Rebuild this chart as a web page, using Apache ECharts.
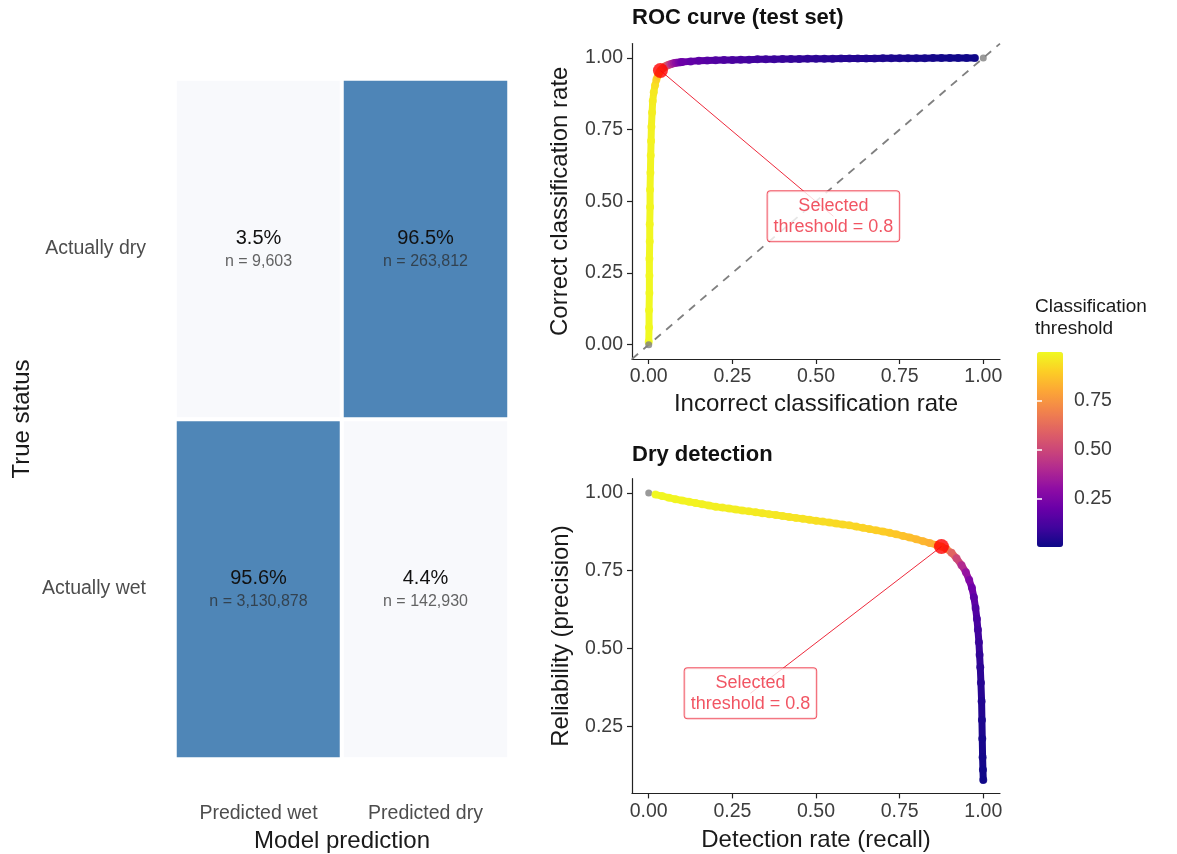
<!DOCTYPE html>
<html>
<head>
<meta charset="utf-8">
<script src="https://cdn.jsdelivr.net/npm/echarts@6/dist/echarts.min.js"></script>
<style>
  html, body { margin: 0; padding: 0; background: #fff; }
  #chart { width: 1177px; height: 854px; }
</style>
</head>
<body>
<div id="chart"></div>
<script>
// Confusion matrix
const predCats = ['Predicted wet', 'Predicted dry'];
const trueCats = ['Actually wet', 'Actually dry'];
const cellPred = [0, 1, 0, 1];
const cellTrue = [0, 0, 1, 1];
const cellShare = [0.956, 0.044, 0.035, 0.965];
const cellCount = [3130878, 142930, 9603, 263812];

// ROC curve (test set)
const rocFpr = [0.000, 0.001, 0.001, 0.002, 0.002, 0.002, 0.003, 0.003, 0.004, 0.004, 0.005, 0.006, 0.007, 0.008, 0.010, 0.012, 0.015, 0.019, 0.023, 0.027, 0.031, 0.035,
  0.040, 0.045, 0.050, 0.055, 0.060, 0.065, 0.070, 0.076, 0.082, 0.089, 0.095,
  0.100, 0.125, 0.150, 0.175, 0.200, 0.225, 0.250, 0.275, 0.300, 0.325, 0.350, 0.375, 0.400, 0.425, 0.450, 0.475, 0.500, 0.525, 0.550, 0.575,
  0.600, 0.625, 0.650, 0.675, 0.700, 0.725, 0.750, 0.775, 0.800, 0.825, 0.850, 0.875, 0.900, 0.925, 0.950, 0.975];
const rocTpr = [0.01, 0.06, 0.12, 0.18, 0.24, 0.30, 0.36, 0.42, 0.48, 0.54, 0.60, 0.66, 0.71, 0.76, 0.81, 0.85, 0.88, 0.905, 0.925, 0.938, 0.948, 0.956,
  0.962, 0.967, 0.971, 0.974, 0.976, 0.978, 0.980, 0.982, 0.983, 0.984, 0.985,
  0.986, 0.988, 0.990, 0.991, 0.992, 0.993, 0.993, 0.994, 0.994, 0.995, 0.995, 0.995, 0.996, 0.996, 0.996, 0.997, 0.997, 0.997, 0.997, 0.998,
  0.998, 0.998, 0.998, 0.998, 0.999, 0.999, 0.999, 0.999, 0.999, 0.999, 1.000, 1.000, 1.000, 1.000, 1.000, 1.000];
const rocThr = [0.999, 0.998, 0.997, 0.996, 0.995, 0.994, 0.993, 0.992, 0.991, 0.99, 0.988, 0.986, 0.983, 0.98, 0.975, 0.97, 0.96, 0.94, 0.91, 0.87, 0.83, 0.80,
  0.74, 0.68, 0.62, 0.56, 0.50, 0.44, 0.38, 0.33, 0.29, 0.25, 0.22,
  0.20, 0.18, 0.165, 0.15, 0.14, 0.13, 0.122, 0.115, 0.108, 0.10, 0.094, 0.088, 0.082, 0.077, 0.072, 0.067, 0.062, 0.058, 0.054, 0.050,
  0.046, 0.042, 0.039, 0.036, 0.033, 0.030, 0.027, 0.024, 0.021, 0.018, 0.015, 0.012, 0.010, 0.008, 0.006, 0.004];
const rocEnds = [[0, 0], [1, 1]];
const rocSelected = [0.035, 0.956];
const rocDiagonal = [[-0.05, -0.05], [1.05, 1.05]];
const rocLabelAt = [0.552, 0.448];

// Dry detection (precision / recall)
const prRecall = [0.02, 0.04, 0.06, 0.08, 0.10, 0.12, 0.14, 0.16, 0.18, 0.20, 0.22, 0.24, 0.26, 0.28, 0.30, 0.32, 0.34, 0.36, 0.38, 0.40,
  0.42, 0.44, 0.46, 0.48, 0.50, 0.52, 0.54, 0.56, 0.58, 0.60, 0.62, 0.64, 0.66, 0.68, 0.70, 0.72, 0.74, 0.76, 0.78, 0.80,
  0.82, 0.84, 0.86, 0.875, 0.89, 0.905, 0.92, 0.935, 0.948, 0.958, 0.966, 0.972, 0.977, 0.981, 0.984, 0.987, 0.989, 0.991, 0.993,
  0.995, 0.996, 0.997, 0.998, 0.999, 1.000];
const prPrecision = [0.995, 0.990, 0.985, 0.980, 0.976, 0.972, 0.968, 0.964, 0.960, 0.956, 0.953, 0.950, 0.947, 0.944, 0.941, 0.938, 0.935, 0.932, 0.929, 0.926,
  0.923, 0.920, 0.917, 0.914, 0.911, 0.908, 0.905, 0.902, 0.899, 0.896, 0.892, 0.888, 0.884, 0.880, 0.876, 0.872, 0.867, 0.862, 0.857, 0.851,
  0.845, 0.839, 0.833, 0.828, 0.820, 0.808, 0.790, 0.768, 0.745, 0.720, 0.695, 0.665, 0.630, 0.595, 0.560, 0.520, 0.480, 0.440, 0.390,
  0.330, 0.270, 0.210, 0.150, 0.110, 0.077];
const prThr = [0.995, 0.993, 0.991, 0.989, 0.987, 0.985, 0.983, 0.981, 0.979, 0.977, 0.975, 0.973, 0.971, 0.969, 0.967, 0.965, 0.963, 0.961, 0.958, 0.955,
  0.952, 0.949, 0.946, 0.943, 0.940, 0.936, 0.932, 0.928, 0.924, 0.920, 0.915, 0.910, 0.905, 0.900, 0.894, 0.888, 0.880, 0.870, 0.860, 0.850,
  0.838, 0.825, 0.812, 0.80, 0.70, 0.60, 0.50, 0.40, 0.32, 0.26, 0.21, 0.17, 0.14, 0.12, 0.10, 0.085, 0.07, 0.06, 0.05,
  0.04, 0.03, 0.022, 0.015, 0.01, 0.005];
const prEnds = [[0, 1]];
const prSelected = [0.875, 0.828];
const prLabelAt = [0.304, 0.356];

const selectedText = 'Selected\nthreshold = 0.8';
const axisTicks = [0, 0.25, 0.5, 0.75, 1];
const prYTicks = [0.25, 0.5, 0.75, 1];
const legendTicks = [0.25, 0.5, 0.75];
const plasma = ['#0d0887', '#41049d', '#6a00a8', '#8f0da4', '#b12a90', '#cc4778', '#e16462', '#f2844b', '#fca636', '#fcce25', '#f0f921'];

const FONT = '"Liberation Sans", Arial, Helvetica, sans-serif';
const RED = '#ee2a3c';

const chart = echarts.init(document.getElementById('chart'));

function zip3(a, b, c) {
    return a.map((v, i) => [v, b[i], c[i]]);
}

// joins consecutive points with a segment coloured by the threshold visualMap
function pathSeries(idx, data) {
    return {
        type: 'custom',
        xAxisIndex: idx, yAxisIndex: idx,
        data: data,
        encode: { x: 0, y: 1 },
        silent: true,
        z: 2,
        renderItem: function (params, api) {
            const i = params.dataIndex;
            if (i >= data.length - 1) return null;
            const a = api.coord([data[i][0], data[i][1]]);
            const b = api.coord([data[i + 1][0], data[i + 1][1]]);
            return {
                type: 'line',
                shape: { x1: a[0], y1: a[1], x2: b[0], y2: b[1] },
                style: { stroke: api.visual('color'), lineWidth: 7, lineCap: 'round' }
            };
        }
    };
}

function plotAxis(idx, isX, ticks, extra) {
    return Object.assign({
        type: 'value',
        gridIndex: idx,
        min: -0.05, max: 1.05,
        axisLine: { show: true, onZero: false, lineStyle: { color: '#222', width: 1.2 } },
        axisTick: { show: true, length: 5, customValues: ticks, lineStyle: { color: '#222', width: 1.2 } },
        axisLabel: {
            customValues: ticks, formatter: v => v.toFixed(2),
            color: '#3d3d3d', fontSize: 19.5, fontFamily: FONT, margin: isX ? 8 : 9
        },
        splitLine: { show: false },
        nameLocation: 'middle',
        nameTextStyle: { color: '#1a1a1a', fontSize: 24, fontFamily: FONT },
        nameGap: isX ? 33 : 60
    }, extra);
}

function annotation(idx, point, labelAt) {
    return [
        {
            type: 'line', xAxisIndex: idx, yAxisIndex: idx,
            data: [point, labelAt], symbol: 'none', silent: true, z: 4,
            lineStyle: { color: RED, width: 1 }
        },
        {
            type: 'scatter', xAxisIndex: idx, yAxisIndex: idx,
            data: [point], symbolSize: 15, silent: true, z: 5,
            itemStyle: { color: '#ff0000' }
        },
        {
            type: 'scatter', xAxisIndex: idx, yAxisIndex: idx,
            data: [labelAt], symbolSize: 1, silent: true, z: 6,
            itemStyle: { color: 'transparent' },
            label: {
                show: true, position: 'inside', formatter: selectedText,
                color: RED, fontSize: 18, fontFamily: FONT, lineHeight: 21, align: 'center',
                backgroundColor: '#fff', borderColor: RED, borderWidth: 1, borderRadius: 3,
                padding: [4, 6]
            }
        }
    ];
}

const rocData = zip3(rocFpr, rocTpr, rocThr);
const prData = zip3(prRecall, prPrecision, prThr);

const option = {
    animation: false,
    backgroundColor: '#fff',
    title: [
        { text: 'ROC curve (test set)', left: 632, top: 7, padding: 0,
          textStyle: { fontSize: 22, fontWeight: 'bold', color: '#111', fontFamily: FONT } },
        { text: 'Dry detection', left: 632, top: 444, padding: 0,
          textStyle: { fontSize: 22, fontWeight: 'bold', color: '#111', fontFamily: FONT } },
        { text: 'Classification\nthreshold', left: 1035, top: 296, padding: 0,
          textStyle: { fontSize: 19, fontWeight: 'normal', color: '#1a1a1a', fontFamily: FONT, lineHeight: 22 } }
    ],
    grid: [
        { left: 175, top: 79, width: 334, height: 680, outerBoundsMode: 'none' },
        { left: 632, top: 43.6, width: 368, height: 315.4, outerBoundsMode: 'none' },
        { left: 632, top: 478.7, width: 368, height: 314.7, outerBoundsMode: 'none' },
        { left: 1037, top: 352, width: 26, height: 195, outerBoundsMode: 'none' }
    ],
    xAxis: [
        {
            type: 'category', gridIndex: 0, data: predCats,
            axisLine: { show: false }, axisTick: { show: false }, splitLine: { show: false },
            axisLabel: { color: '#4d4d4d', fontSize: 19.5, fontFamily: FONT, margin: 45 },
            name: 'Model prediction', nameLocation: 'middle', nameGap: 69,
            nameTextStyle: { color: '#1a1a1a', fontSize: 24, fontFamily: FONT }
        },
        plotAxis(1, true, axisTicks, { name: 'Incorrect classification rate' }),
        plotAxis(2, true, axisTicks, { name: 'Detection rate (recall)', nameGap: 35 }),
        { type: 'value', gridIndex: 3, min: 0, max: 1, show: false }
    ],
    yAxis: [
        {
            type: 'category', gridIndex: 0, data: trueCats,
            axisLine: { show: false }, axisTick: { show: false }, splitLine: { show: false },
            axisLabel: { color: '#4d4d4d', fontSize: 19.5, fontFamily: FONT, margin: 29, padding: [6, 0, 0, 0] },
            name: 'True status', nameLocation: 'middle', nameGap: 141,
            nameTextStyle: { color: '#1a1a1a', fontSize: 24, fontFamily: FONT }
        },
        plotAxis(1, false, axisTicks, { name: 'Correct classification rate' }),
        plotAxis(2, false, prYTicks, { name: 'Reliability (precision)', min: 0.034, max: 1.046, nameGap: 59 }),
        {
            type: 'value', gridIndex: 3, min: 0, max: 1, position: 'right', z: 10,
            axisLine: { show: false }, splitLine: { show: false },
            axisTick: { show: true, inside: true, length: 5, customValues: legendTicks, lineStyle: { color: '#fff', width: 1.5 } },
            axisLabel: { customValues: legendTicks, formatter: v => v.toFixed(2), color: '#3d3d3d', fontSize: 19.5, fontFamily: FONT, margin: 11 }
        },
        {
            type: 'value', gridIndex: 3, min: 0, max: 1, position: 'left', z: 10,
            axisLine: { show: false }, splitLine: { show: false }, axisLabel: { show: false },
            axisTick: { show: true, inside: true, length: 5, customValues: legendTicks, lineStyle: { color: '#fff', width: 1.5 } }
        }
    ],
    visualMap: [
        {
            type: 'continuous', min: 0, max: 1, dimension: 2,
            seriesIndex: [2, 3, 9, 10],
            inRange: { color: plasma },
            calculable: false, orient: 'vertical',
            left: 1037, top: 352, itemWidth: 26, itemHeight: 195, padding: 0,
            text: null, showLabel: false
        },
        {
            type: 'continuous', show: false, min: 0.05, max: 0.96, dimension: 2,
            seriesIndex: 0,
            inRange: { color: ['#f8f9fc', '#4e85b7'] }
        }
    ],
    series: [
        {
            type: 'heatmap', xAxisIndex: 0, yAxisIndex: 0,
            data: cellShare.map((v, i) => [cellPred[i], cellTrue[i], v]),
            itemStyle: { borderColor: '#fff', borderWidth: 4 },
            emphasis: { disabled: true },
            label: {
                show: true, offset: [0, 1],
                formatter: p => '{p|' + (cellShare[p.dataIndex] * 100).toFixed(1) + '%}\n{n|n = '
                    + cellCount[p.dataIndex].toLocaleString('en-US') + '}',
                rich: {
                    p: { fontSize: 20, color: '#111', lineHeight: 23, fontFamily: FONT },
                    n: { fontSize: 16, color: 'rgba(40,40,40,0.72)', lineHeight: 23, fontFamily: FONT }
                }
            }
        },
        // ROC
        {
            type: 'line', xAxisIndex: 1, yAxisIndex: 1, data: rocDiagonal,
            symbol: 'none', silent: true, z: 1,
            lineStyle: { color: '#808080', width: 1.8, type: [8, 7] }
        },
        pathSeries(1, rocData),
        {
            type: 'scatter', xAxisIndex: 1, yAxisIndex: 1, data: rocData,
            symbolSize: 8, silent: true, z: 3
        },
        {
            type: 'scatter', xAxisIndex: 1, yAxisIndex: 1, data: rocEnds,
            symbolSize: 7, silent: true, z: 3, itemStyle: { color: '#808080' }
        },
        ...annotation(1, rocSelected, rocLabelAt),
        // Dry detection
        {
            type: 'scatter', xAxisIndex: 2, yAxisIndex: 2, data: prEnds,
            symbolSize: 7, silent: true, z: 3, itemStyle: { color: '#808080' }
        },
        pathSeries(2, prData),
        {
            type: 'scatter', xAxisIndex: 2, yAxisIndex: 2, data: prData,
            symbolSize: 8, silent: true, z: 3
        },
        ...annotation(2, prSelected, prLabelAt)
    ]
};

chart.setOption(option);
</script>
</body>
</html>
